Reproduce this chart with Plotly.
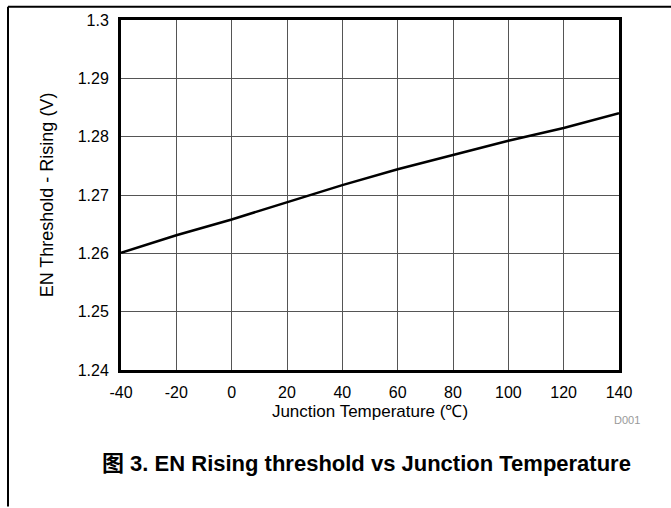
import plotly.graph_objects as go

temperature_c = [-40, -20, 0, 20, 40, 60, 80, 100, 120, 140]
en_threshold_v = [1.2601, 1.2631, 1.2658, 1.2688, 1.2717, 1.2744, 1.2768, 1.2793, 1.2815, 1.2840]
x_ticks = [-40, -20, 0, 20, 40, 60, 80, 100, 120, 140]
x_tick_text = ["-40", "-20", "0", "20", "40", "60", "80", "100", "120", "140"]
y_ticks = [1.24, 1.25, 1.26, 1.27, 1.28, 1.29, 1.30]
y_tick_text = ["1.24", "1.25", "1.26", "1.27", "1.28", "1.29", "1.3"]

W, H = 671, 508
L, R, T, B = 121, 52, 16, 138
pw, ph = W - L - R, H - T - B

def px(p):
    return (p - L) / pw

def py(p):
    return (H - B - p) / ph

fig = go.Figure()
fig.add_trace(go.Scatter(x=temperature_c, y=en_threshold_v, mode="lines",
                         line=dict(color="black", width=2.5), showlegend=False,
                         hoverinfo="skip"))

font = "Liberation Sans, Arial, sans-serif"
fig.update_layout(
    width=W, height=H,
    margin=dict(l=L, r=R, t=T, b=B),
    paper_bgcolor="white", plot_bgcolor="white",
    font=dict(family=font, color="black", size=16),
    xaxis=dict(range=[-40, 140], tickvals=x_ticks, ticktext=x_tick_text, ticks="", showgrid=True,
               gridcolor="#555555", gridwidth=1, zeroline=False,
               showline=True, linecolor="black", linewidth=3, mirror=True,
               tickfont=dict(size=16), ticklabelstandoff=6,
               title=dict(text="Junction Temperature (℃)", font=dict(size=17), standoff=5)),
    yaxis=dict(range=[1.24, 1.30], tickvals=y_ticks, ticktext=y_tick_text, ticks="",
               showgrid=True, gridcolor="#555555", gridwidth=1, zeroline=False,
               showline=True, linecolor="black", linewidth=3, mirror=True,
               tickfont=dict(size=16), ticklabelstandoff=6,
               title=dict(text="EN Threshold - Rising (V)", font=dict(size=18), standoff=20)),
    shapes=[
        dict(type="line", xref="paper", yref="paper", x0=px(8), x1=px(671), y0=py(2.5), y1=py(2.5),
             line=dict(color="black", width=2)),
        dict(type="line", xref="paper", yref="paper", x0=px(8), x1=px(8), y0=py(2.5), y1=py(508),
             line=dict(color="black", width=2)),
    ],
    annotations=[
        dict(text="D001", xref="paper", yref="paper", x=px(642), y=py(421), xanchor="right",
             yanchor="middle", showarrow=False, font=dict(size=11, color="#999999")),
        dict(text="<b>图 3. EN Rising threshold vs Junction Temperature</b>", xref="paper",
             yref="paper", x=px(366), y=py(465), xanchor="center", yanchor="middle",
             showarrow=False, font=dict(size=22, family="Liberation Sans, Arial, Noto Sans CJK SC, sans-serif")),
    ],
)
fig.write_html("out.html", config={"displayModeBar": False, "staticPlot": True},
               post_script="document.body.style.margin='0';document.body.style.overflow='hidden';")
